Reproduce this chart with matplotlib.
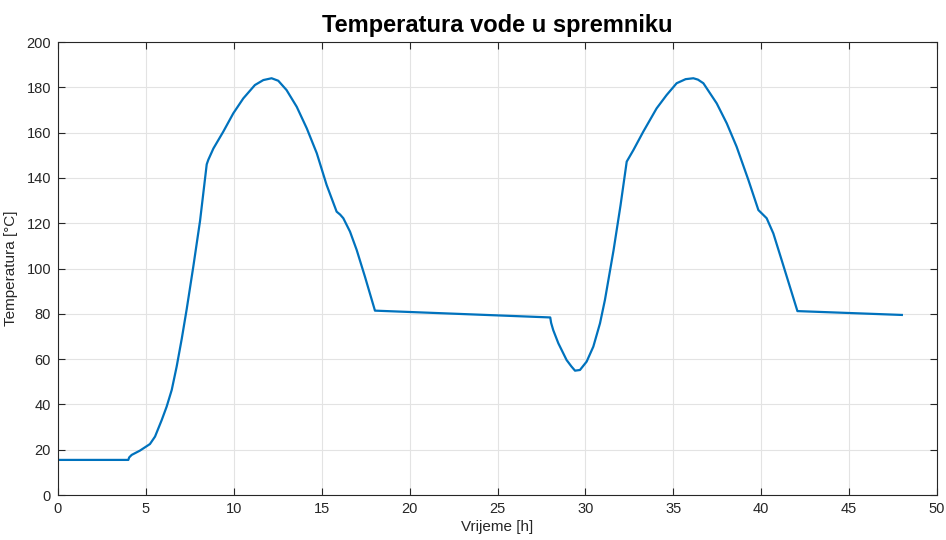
import matplotlib
matplotlib.use("Agg")
import matplotlib.pyplot as plt

# time [h] and water temperature [°C]
time_h = [0, 4.0, 4.05, 4.19, 4.66, 5.23, 5.52, 5.9, 6.18, 6.47, 6.75, 7.04,
          7.32, 7.7, 8.08, 8.46, 8.55, 8.84, 9.4, 9.97, 10.54, 11.2, 11.68,
          12.15, 12.53, 13.0, 13.58, 14.15, 14.72, 15.28, 15.85, 16.05, 16.23,
          16.61, 16.99, 17.46, 18.03, 28.0, 28.05, 28.17, 28.46, 28.93, 29.2,
          29.41, 29.69, 30.07, 30.45, 30.83, 31.11, 31.6, 32.0, 32.35, 32.73,
          33.29, 34.05, 34.62, 35.19, 35.7, 36.14, 36.4, 36.71, 37.47, 38.04,
          38.6, 39.27, 39.84, 40.05, 40.31, 40.69, 41.16, 42.06, 48.0]
temp_c = [15.5, 15.5, 16.6, 17.7, 19.6, 22.5, 25.8, 33.1, 39.0, 46.4, 56.7,
          69.0, 82.0, 101.0, 121.0, 146.0, 148.0, 153.0, 160.4, 168.5, 175.1,
          181.0, 183.2, 184.0, 182.9, 178.8, 171.4, 161.9, 150.9, 136.9, 125.1,
          123.8, 122.2, 116.3, 108.2, 96.4, 81.4, 78.4, 76.0, 72.8, 67.0, 59.6,
          56.8, 54.9, 55.2, 58.9, 65.5, 75.8, 86.1, 108.0, 128.0, 147.2, 152.3,
          160.4, 170.7, 176.6, 181.8, 183.6, 184.0, 183.4, 181.8, 172.9, 164.1,
          153.8, 139.1, 125.8, 124.2, 122.2, 115.5, 103.8, 81.2, 79.5]

x_ticks = list(range(0, 51, 5))
y_ticks = list(range(0, 201, 20))

plt.rcParams["font.family"] = ["Liberation Sans", "DejaVu Sans"]

fig = plt.figure(figsize=(9.46, 5.4), dpi=100)
ax = fig.add_axes([0.0613, 0.0833, 0.9292, 0.8389])

ax.plot(time_h, temp_c, color="#0072BD", linewidth=1.6,
        solid_joinstyle="round")

ax.set_xlim(0, 50)
ax.set_ylim(0, 200)
ax.set_xticks(x_ticks)
ax.set_yticks(y_ticks)
ax.grid(True, color="#e3e3e3", linewidth=0.8)
ax.set_axisbelow(True)

ax.tick_params(direction="in", top=True, right=True, length=5, width=0.8,
               colors="#262626", labelsize=10.5, pad=5)
for sp in ax.spines.values():
    sp.set_color("#262626")
    sp.set_linewidth(0.8)

ax.set_xlabel("Vrijeme [h]", fontsize=11, color="#262626", labelpad=3)
ax.set_ylabel("Temperatura [°C]", fontsize=11, color="#262626", labelpad=6)
ax.set_title("Temperatura vode u spremniku", fontsize=17, fontweight="bold",
             color="black", pad=7)

fig.savefig("out.png", dpi=100, facecolor="white")
